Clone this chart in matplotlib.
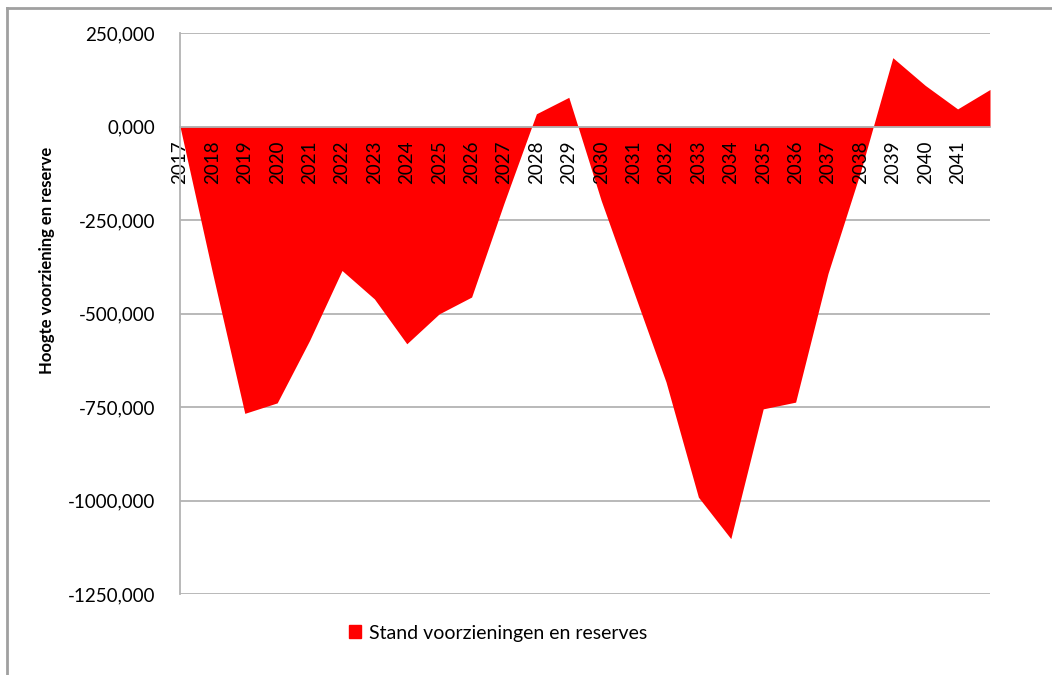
import numpy as np
import matplotlib.pyplot as plt
from matplotlib.lines import Line2D
from matplotlib.patches import Patch

plt.rcParams['font.family'] = ['Lato', 'DejaVu Sans']

# jaren (laatste punt heeft geen label in het origineel)
jaren = ['2017', '2018', '2019', '2020', '2021', '2022', '2023', '2024', '2025',
         '2026', '2027', '2028', '2029', '2030', '2031', '2032', '2033', '2034',
         '2035', '2036', '2037', '2038', '2039', '2040', '2041', '']

# stand voorzieningen en reserves
stand = [0, -390, -767, -739, -572, -385, -461, -581, -501, -456,
         -205, 34, 78, -198, -441, -683, -991, -1102,
         -755, -737, -393, -122, 184, 110, 47, 99]

yticks = [250, 0, -250, -500, -750, -1000, -1250]

fig = plt.figure(figsize=(10.52, 6.75), dpi=100)
ax = fig.add_axes([180/1052, 1 - 594/675, 810/1052, 561/675])

# eerst de spines, anders worden de ticklabels weer gewist
for s in ['top', 'right']:
    ax.spines[s].set_visible(False)
ax.spines['bottom'].set_position(('data', 0))
ax.spines['bottom'].set_color('#b3b3b3')
ax.spines['bottom'].set_linewidth(1.3)
ax.spines['left'].set_color('#b3b3b3')
ax.spines['left'].set_linewidth(1.3)

x = np.arange(len(stand))
ax.fill_between(x, stand, 0, color='#ff0000', linewidth=0, zorder=1)

for t in yticks:
    ax.axhline(t, color='#b3b3b3', linewidth=1.3, zorder=0.5)

ax.set_xlim(0, len(stand) - 1)
ax.set_ylim(-1250, 250)
ax.set_yticks(yticks)
ax.set_yticklabels([f'{t:.3f}'.replace('.', ',') for t in yticks], fontsize=13.5)
ax.set_xticks(x)
ax.set_xticklabels(jaren, rotation=90, fontsize=13.5, va='top')
ax.tick_params(axis='both', length=0)
ax.tick_params(axis='y', pad=18)
ax.tick_params(axis='x', pad=10)

fig.text(47/1052, 1 - 260/675, 'Hoogte voorziening en reserve', rotation=90,
         ha='center', va='center', fontsize=12, fontweight='bold')

fig.legend(handles=[Patch(color='#ff0000', label='Stand voorzieningen en reserves')],
           loc='center', bbox_to_anchor=(498/1052, 1 - 633/675), frameon=False,
           fontsize=14, handlelength=0.6, handleheight=0.6, handletextpad=0.4)

# buitenrand van de grafiek
fig.add_artist(Line2D([7/1052, 7/1052], [0, 1 - 8/675], transform=fig.transFigure,
                      color='#a0a0a0', linewidth=2))
fig.add_artist(Line2D([7/1052, 1], [1 - 8/675, 1 - 8/675], transform=fig.transFigure,
                      color='#a0a0a0', linewidth=2))

fig.savefig('out.png', dpi=100)
